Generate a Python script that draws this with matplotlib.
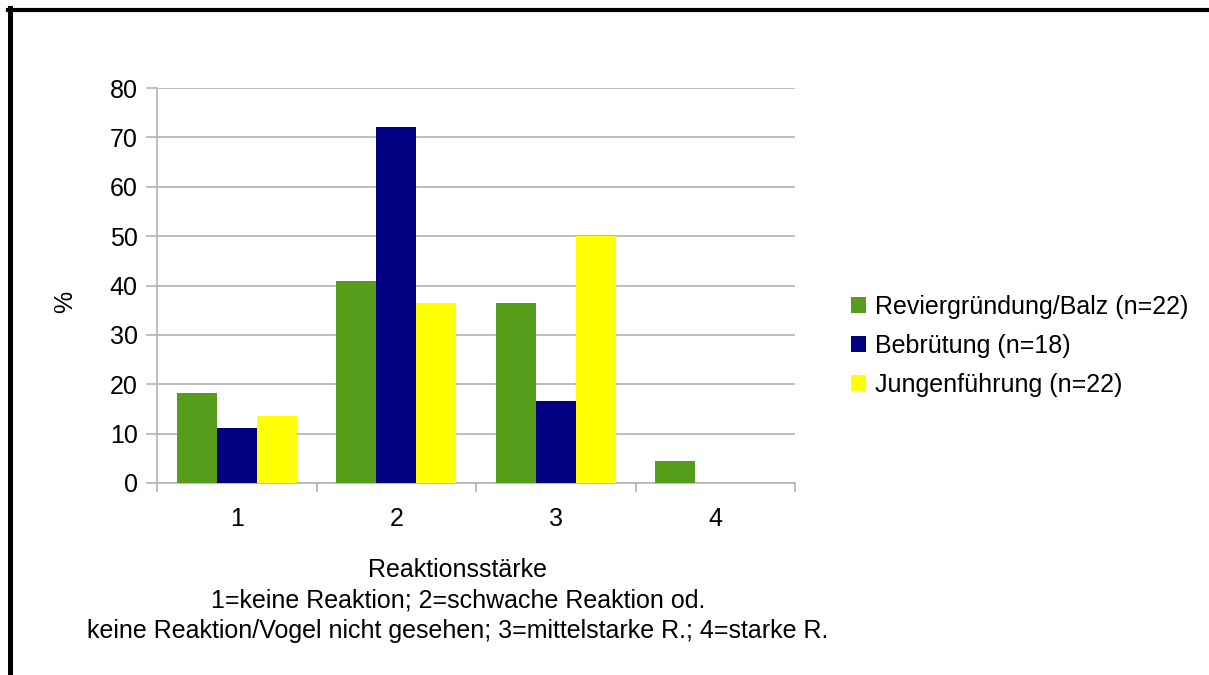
import matplotlib
matplotlib.use("Agg")
import matplotlib.pyplot as plt
from matplotlib.lines import Line2D
import numpy as np

# ==========================
# Data
# ==========================

categories = ["1", "2", "3", "4"]

series_names = [
    "Reviergründung/Balz (n=22)",
    "Bebrütung (n=18)",
    "Jungenführung (n=22)",
]

revier = [18.2, 40.9, 36.4, 4.5]
bebruetung = [11.1, 72.2, 16.7, 0.0]
jungen = [13.6, 36.4, 50.0, 0.0]

y_ticks = [0, 10, 20, 30, 40, 50, 60, 70, 80]

colors = ["#579d1c", "#000080", "#ffff00"]

x_label = ("Reaktionsstärke\n"
           "1=keine Reaktion; 2=schwache Reaktion od.\n"
           "keine Reaktion/Vogel nicht gesehen; 3=mittelstarke R.; 4=starke R.")

# ==========================
# Figure
# ==========================

plt.rcParams["font.family"] = ["Liberation Sans", "DejaVu Sans"]

W, H = 1209, 675
fig = plt.figure(figsize=(W / 100, H / 100), dpi=100)
fig.patch.set_facecolor("white")

ax = fig.add_axes([157 / W, 1 - 483 / H, (795 - 157) / W, (483 - 88) / H])

x = np.arange(1, len(categories) + 1)
width = 0.25
all_series = [revier, bebruetung, jungen]

for i, (vals, name, col) in enumerate(zip(all_series, series_names, colors)):
    ax.bar(x + (i - 1) * width, vals, width=width, color=col,
           label=name, linewidth=0, zorder=3)

ax.set_xlim(0.5, len(categories) + 0.5)
ax.set_ylim(0, 80)
ax.set_yticks(y_ticks)
ax.set_yticklabels([str(t) for t in y_ticks], fontsize=18)

ax.set_xticks(x)
ax.set_xticklabels(categories, fontsize=18)
ax.set_xticks(np.arange(0.5, len(categories) + 1, 1), minor=True)

grid_col = "#b3b3b3"
ax.yaxis.grid(True, color=grid_col, linewidth=1.2, zorder=0)
ax.set_axisbelow(True)

ax.tick_params(axis="y", length=8, width=1.2, color=grid_col, pad=6)
ax.tick_params(axis="x", which="major", length=0, pad=17)
ax.tick_params(axis="x", which="minor", length=6.5, width=1.2, color=grid_col)

for side in ["top", "right"]:
    ax.spines[side].set_visible(False)
for side in ["left", "bottom"]:
    ax.spines[side].set_color(grid_col)
    ax.spines[side].set_linewidth(1.2)

# axis titles
fig.text(65 / W, 1 - 302 / H, "%", rotation=90, fontsize=18,
         ha="center", va="center")
fig.text(458 / W, 1 - 558 / H, x_label, fontsize=18, ha="center",
         va="top", multialignment="center", linespacing=1.33)

# legend
ax.legend(loc="center left", bbox_to_anchor=(851 / W, 1 - 346 / H),
          bbox_transform=fig.transFigure, frameon=False, fontsize=18,
          handlelength=0.6, handleheight=0.6, handletextpad=0.36,
          labelspacing=0.6, borderaxespad=0, borderpad=0)

# frame lines
fig.add_artist(Line2D([8 / W, 1], [1 - 10 / H, 1 - 10 / H],
                      transform=fig.transFigure, color="black", linewidth=3))
fig.add_artist(Line2D([10 / W, 10 / W], [0, 1 - 8 / H],
                      transform=fig.transFigure, color="black", linewidth=3.6))

fig.savefig("out.png", dpi=100)
